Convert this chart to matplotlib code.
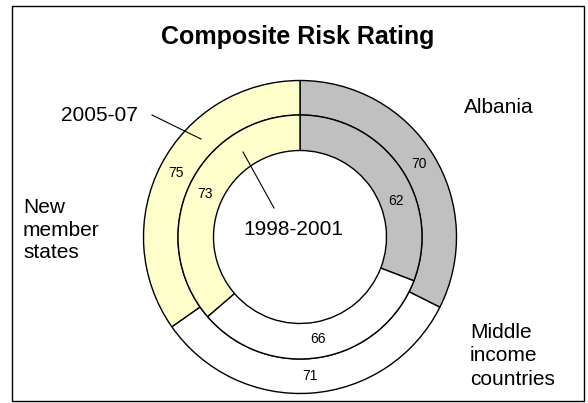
import matplotlib
matplotlib.use("Agg")
import matplotlib.pyplot as plt
import numpy as np
from matplotlib.patches import Rectangle

plt.rcParams['font.family'] = ['Liberation Sans', 'DejaVu Sans']

# Composite risk rating by group
groups = ["Albania", "Middle\nincome\ncountries", "New\nmember\nstates"]
rating_2005_07 = [70, 71, 75]       # outer ring
rating_1998_2001 = [62, 66, 73]     # inner ring
ring_colors = ["#C0C0C0", "#FFFFFF", "#FFFFCC"]

W, H = 588, 403
fig = plt.figure(figsize=(W / 100, H / 100), dpi=100)
ax = fig.add_axes([0, 0, 1, 1])

cx, cy = 300, H - 237
r_out, r_mid, r_in = 156.5, 122.0, 86.5
edge = dict(edgecolor="black", linewidth=1.0)

outer, outer_txt = ax.pie(
    rating_2005_07, labels=[str(v) for v in rating_2005_07],
    colors=ring_colors, startangle=90, counterclock=False,
    radius=r_out, center=(cx, cy), labeldistance=139.5 / r_out,
    wedgeprops=dict(width=r_out - r_mid, **edge),
    textprops=dict(fontsize=10, ha="center", va="center"))
inner, inner_txt = ax.pie(
    rating_1998_2001, labels=[str(v) for v in rating_1998_2001],
    colors=ring_colors, startangle=90, counterclock=False,
    radius=r_mid, center=(cx, cy), labeldistance=104.0 / r_mid,
    wedgeprops=dict(width=r_mid - r_in, **edge),
    textprops=dict(fontsize=10, ha="center", va="center"))

for t in outer_txt + inner_txt:
    t.set_ha("center")
    t.set_va("center")

# nudge the Albania inner label toward the lower part of its segment
a = np.deg2rad(20.6)
inner_txt[0].set_position((cx + 103 * np.cos(a), cy + 103 * np.sin(a)))

ax.set_xlim(0, W)
ax.set_ylim(0, H)
ax.set_aspect("auto")
ax.axis("off")

# chart frame
ax.add_patch(Rectangle((12, 2), 572, H - 8, fill=False, edgecolor="black",
                       linewidth=1.0, clip_on=False))

ax.text(298, H - 44, "Composite Risk Rating", fontsize=18, fontweight="bold",
        ha="center", va="baseline")

lab = dict(fontsize=15, va="baseline")
ax.text(464, H - 113, groups[0], ha="left", **lab)
ax.text(470, H - 323, groups[1], ha="left", linespacing=1.29, va="top",
        fontsize=15)
ax.text(23, H - 198, groups[2], ha="left", linespacing=1.25, va="top",
        fontsize=15)

ax.text(61, H - 121, "2005-07", ha="left", **lab)
ax.text(293, H - 235, "1998-2001", ha="center", **lab)
ax.plot([152, 201], [H - 115, H - 139], color="black", linewidth=0.8)
ax.plot([243, 274], [H - 152, H - 208], color="black", linewidth=0.8)

fig.savefig("out.png", dpi=100)
